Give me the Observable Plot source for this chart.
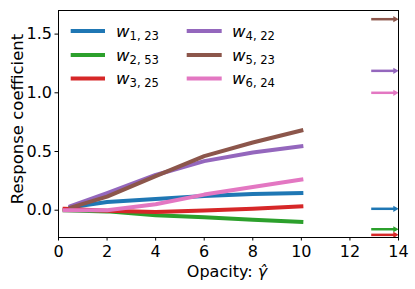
<!DOCTYPE html>
<html>
<head>
<meta charset="utf-8">
<script src="https://cdn.jsdelivr.net/npm/d3@7"></script>
<script src="https://cdn.jsdelivr.net/npm/@observablehq/plot@0.6"></script>
<style>
  html, body { margin: 0; padding: 0; background: #fff; }
  #chart svg { display: block; font-family: "DejaVu Sans", sans-serif; }
</style>
</head>
<body>
<div id="chart"></div>
<script>
// ---- data ----
const seriesIds = ["w1", "w2", "w3", "w4", "w5", "w6"];
const seriesSub = ["1, 23", "2, 53", "3, 25", "4, 22", "5, 23", "6, 24"];
const seriesColors = ["#1f77b4", "#2ca02c", "#d62728", "#9467bd", "#8c564b", "#e377c2"];

const xLate = [0.5, 2, 4, 6, 8, 10];   // w1, w4, w5
const xEarly = [0.25, 2, 4, 6, 8, 10]; // w2, w3, w6

const w1 = [0.025, 0.07, 0.095, 0.122, 0.138, 0.147];
const w2 = [0.0, -0.01, -0.042, -0.06, -0.082, -0.1];
const w3 = [0.012, -0.005, -0.015, -0.003, 0.012, 0.033];
const w4 = [0.034, 0.145, 0.30, 0.418, 0.492, 0.544];
const w5 = [0.022, 0.115, 0.29, 0.46, 0.577, 0.679];
const w6 = [0.0, 0.0, 0.05, 0.133, 0.198, 0.261];

// limiting values marked with arrows on the right (x from 13 to 14)
const arrowX1 = 13, arrowX2 = 14;
const arrowVals = [0.012, -0.162, -0.21, 1.187, 1.627, 1.0];

const xTicks = [0, 2, 4, 6, 8, 10, 12, 14];
const yTicks = [0, 0.5, 1.0, 1.5];

// ---- build table ----
const seriesVals = [w1, w2, w3, w4, w5, w6];
const seriesX = [xLate, xEarly, xEarly, xLate, xLate, xEarly];
const rows = [];
seriesIds.forEach((id, i) => {
  seriesVals[i].forEach((v, j) => rows.push({series: id, x: seriesX[i][j], y: v}));
});
const arrows = seriesIds.map((id, i) => ({series: id, x1: arrowX1, x2: arrowX2, y: arrowVals[i]}));

const W = 415, H = 289;
const FONT = 16;

const plot = Plot.plot({
  width: W,
  height: H,
  marginLeft: 58,
  marginRight: 17,
  marginTop: 10,
  marginBottom: 52,
  style: {fontFamily: "DejaVu Sans, sans-serif", fontSize: FONT + "px", background: "white", overflow: "visible"},
  x: {domain: [0, 14]},
  y: {domain: [-0.2325, 1.701]},
  color: {domain: seriesIds, range: seriesColors},
  marks: [
    Plot.line(rows, {x: "x", y: "y", z: "series", stroke: "series", strokeWidth: 4, strokeLinecap: "square", strokeLinejoin: "round"}),
    Plot.link(arrows, {x1: "x1", x2: "x2", y1: "y", y2: "y", stroke: "series", strokeWidth: 2.5, dx: -3}),
    Plot.dot(arrows, {x: "x2", y: "y", fill: "series", symbol: "triangle", rotate: 90, r: 2.3, dx: -3.4, stroke: null}),
    Plot.frame({stroke: "black", strokeWidth: 1}),
    Plot.axisX({ticks: xTicks, tickSize: 3.5, tickPadding: 4.5, fontSize: FONT, label: null, tickFormat: d3.format("d")}),
    Plot.axisY({ticks: yTicks, tickSize: 3.5, tickPadding: 3, fontSize: FONT, label: null, tickFormat: d3.format(".1f")})
  ]
});

document.getElementById("chart").appendChild(plot);

// ---- axis titles and legend ----
const svg = d3.select(plot);
svg.append("text")
  .attr("transform", "translate(22.5,119) rotate(-90)")
  .attr("text-anchor", "middle")
  .attr("font-size", 16.5)
  .attr("fill", "black")
  .text("Response coefficient");

const xl = svg.append("text")
  .attr("x", 227)
  .attr("y", 277)
  .attr("text-anchor", "middle")
  .attr("font-size", 16)
  .attr("fill", "black");
xl.append("tspan").text("Opacity: ");
xl.append("tspan").attr("font-style", "italic").text("\u03B3\u0302");

const legendCols = [{lx1: 70.7, lx2: 105, tx: 116}, {lx1: 186.7, lx2: 221.7, tx: 232}];
const legendRowY = [31, 55, 78.5];
seriesIds.forEach((id, i) => {
  const col = legendCols[Math.floor(i / 3)];
  const yy = legendRowY[i % 3];
  const g = svg.append("g");
  g.append("line")
    .attr("x1", col.lx1).attr("x2", col.lx2)
    .attr("y1", yy).attr("y2", yy)
    .attr("stroke", seriesColors[i]).attr("stroke-width", 4)
    .attr("stroke-linecap", "butt");
  const t = g.append("text")
    .attr("x", col.tx).attr("y", yy + 5.5)
    .attr("text-anchor", "start")
    .attr("font-size", 16.5).attr("fill", "black");
  t.append("tspan").attr("font-style", "italic").text("w");
  t.append("tspan").attr("font-size", 11.6).attr("dy", 3).text(seriesSub[i]);
});
</script>
</body>
</html>
